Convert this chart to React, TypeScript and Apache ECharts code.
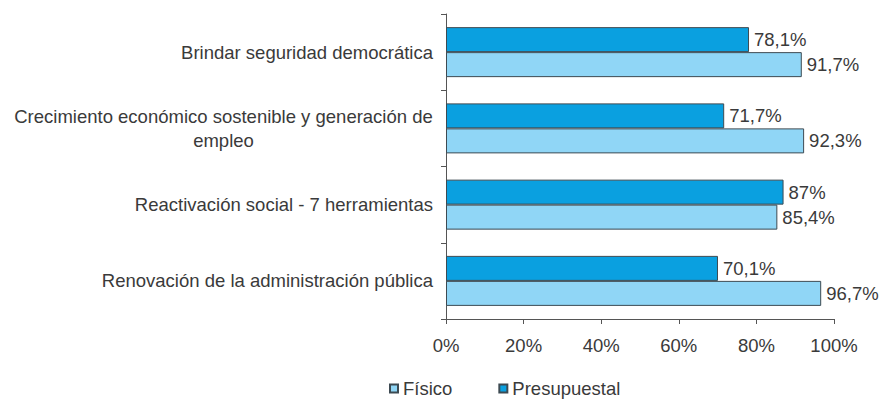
import React, { useEffect, useRef } from "react";
import * as echarts from "echarts";

const categories = [
  "Brindar seguridad democrática",
  "Crecimiento económico sostenible y generación de\nempleo",
  "Reactivación social - 7 herramientas",
  "Renovación de la administración pública",
];
const presupuestal = [78.1, 71.7, 87, 70.1];
const fisico = [91.7, 92.3, 85.4, 96.7];
const xTicks = [0, 20, 40, 60, 80, 100];
const legendNames = ["Físico", "Presupuestal"];

const FONT = "'Liberation Sans', Arial, sans-serif";
const TXT = "#3a3a3a";
const FS = 18.5;

const fmt = (v: number) => String(v).replace(".", ",") + "%";

export default function App() {
  const ref = useRef<HTMLDivElement>(null);
  useEffect(() => {
    if (!ref.current) return;
    const chart = echarts.init(ref.current, null, { renderer: "svg" });
    chart.setOption({
      animation: false,
      backgroundColor: "#ffffff",
      textStyle: { fontFamily: FONT },
      grid: { left: 446, right: 50, top: 14, bottom: 82, containLabel: false },
      legend: {
        data: legendNames,
        left: 384,
        top: 374,
        icon: "rect",
        itemWidth: 8,
        itemHeight: 8,
        itemGap: 46,
        textStyle: { fontFamily: FONT, fontSize: FS, color: TXT },
      },
      xAxis: {
        type: "value",
        min: xTicks[0],
        max: xTicks[xTicks.length - 1],
        interval: 20,
        axisLine: { show: true, lineStyle: { color: "#555", width: 1 } },
        axisTick: { show: true, length: 5, lineStyle: { color: "#555" } },
        splitLine: { show: false },
        axisLabel: {
          formatter: "{value}%",
          color: TXT,
          fontSize: FS,
          fontFamily: FONT,
          margin: 17,
        },
      },
      yAxis: {
        type: "category",
        data: categories,
        inverse: true,
        axisLine: { show: true, lineStyle: { color: "#555", width: 1 } },
        axisTick: { show: true, length: 5, lineStyle: { color: "#555" } },
        axisLabel: {
          color: TXT,
          fontSize: FS,
          fontFamily: FONT,
          margin: 13,
          lineHeight: 24,
          formatter: (v: string) => {
            if (v.indexOf("\n") >= 0) {
              return v
                .split("\n")
                .map((s) => "{c|" + s + "}")
                .join("\n");
            }
            return v;
          },
          rich: {
            c: {
              width: 419,
              align: "center",
              fontSize: FS,
              fontFamily: FONT,
              color: TXT,
              lineHeight: 24,
            },
          },
        },
      },
      series: [
        {
          name: "Presupuestal",
          type: "bar",
          data: presupuestal,
          barWidth: 25,
          barGap: "0%",
          itemStyle: { color: "#0aa0e0", borderColor: "#3d4a52", borderWidth: 1 },
          label: {
            show: true,
            position: "right",
            distance: 5,
            formatter: (p: any) => fmt(p.value),
            color: TXT,
            fontSize: FS,
            fontFamily: FONT,
          },
        },
        {
          name: "Físico",
          type: "bar",
          data: fisico,
          barWidth: 25,
          barGap: "0%",
          itemStyle: { color: "#90d6f6", borderColor: "#3d4a52", borderWidth: 1 },
          label: {
            show: true,
            position: "right",
            distance: 5,
            formatter: (p: any) => fmt(p.value),
            color: TXT,
            fontSize: FS,
            fontFamily: FONT,
          },
        },
      ],
    });
    return () => chart.dispose();
  }, []);
  return (
    <div
      ref={ref}
      style={{ position: "fixed", left: 0, top: 0, width: 884, height: 401 }}
    />
  );
}
